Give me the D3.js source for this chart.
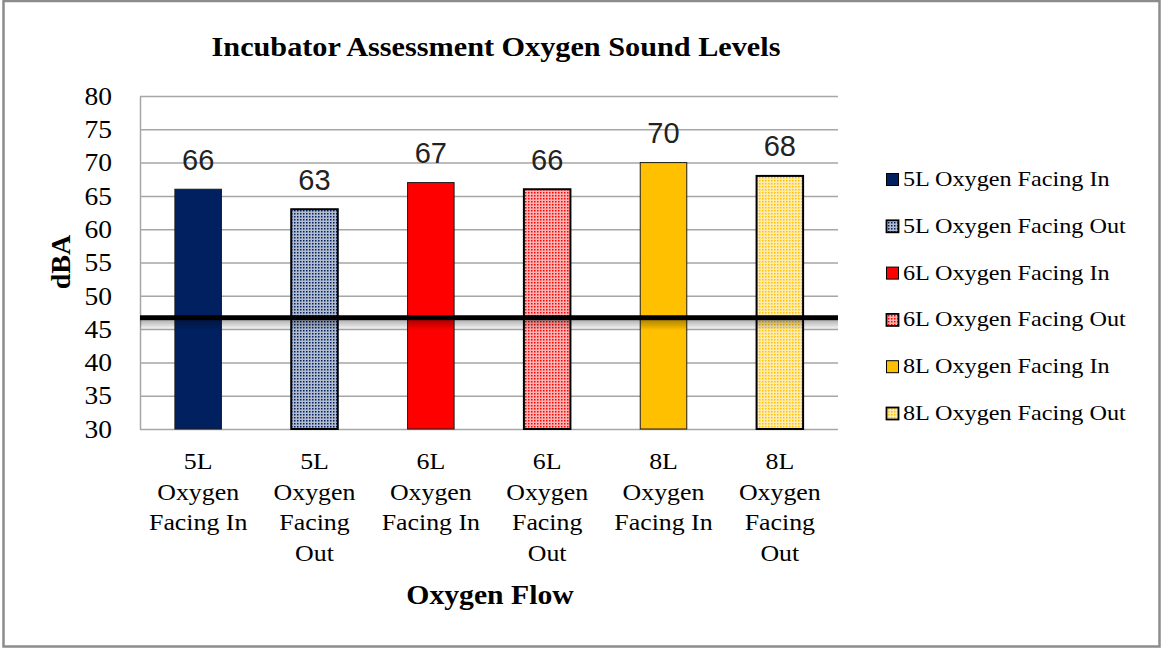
<!DOCTYPE html>
<html>
<head>
<meta charset="utf-8">
<script src="https://cdn.jsdelivr.net/npm/d3@7"></script>
<style>
    html, body { margin: 0; padding: 0; background: #fff; }
    svg { display: block; }
</style>
</head>
<body>
<svg id="chart"></svg>
<script>
// data
const categories = [
    "5L Oxygen Facing In", "5L Oxygen Facing Out",
    "6L Oxygen Facing In", "6L Oxygen Facing Out",
    "8L Oxygen Facing In", "8L Oxygen Facing Out"
];
const values = [66, 63, 67, 66, 70, 68];
const baseColors = ["#002060", "#002060", "#ff0000", "#ff0000", "#ffc000", "#ffc000"];
const patterned = [false, true, false, true, false, true];
const categoryLines = [
    ["5L", "Oxygen", "Facing In"],
    ["5L", "Oxygen", "Facing", "Out"],
    ["6L", "Oxygen", "Facing In"],
    ["6L", "Oxygen", "Facing", "Out"],
    ["8L", "Oxygen", "Facing In"],
    ["8L", "Oxygen", "Facing", "Out"]
];
const yTicks = [30, 35, 40, 45, 50, 55, 60, 65, 70, 75, 80];
const referenceLevel = 46.7;

const width = 1162;
const height = 648;
const plot = { left: 140, right: 838, top: 96, bottom: 429 };
const serif = "'Liberation Serif', 'Times New Roman', serif";
const stretch = 1.1; // the source picture is a bit wider than tall

const svg = d3.select("#chart")
    .attr("width", width)
    .attr("height", height);

const x = d3.scaleBand()
    .domain(categories)
    .range([plot.left, plot.right])
    .paddingInner(0.6)
    .paddingOuter(0.3);

const y = d3.scaleLinear()
    .domain([30, 80])
    .range([plot.bottom, plot.top]);

function fillFor(i) {
    return patterned[i] ? `url(#pat${i})` : baseColors[i];
}

function place(sel, px, py) {
    sel.attr("transform", `translate(${px},${py}) scale(${stretch},1)`);
}

// PATTERNS + SHADOW
const defs = svg.append("defs");
patterned.forEach((p, i) => {
    if (!p) return;
    let pat = defs.append("pattern")
        .attr("id", "pat" + i)
        .attr("patternUnits", "userSpaceOnUse")
        .attr("width", 3)
        .attr("height", 3);
    pat.append("rect")
        .attr("width", 3)
        .attr("height", 3)
        .attr("fill", d3.interpolateRgb(baseColors[i], "#fff")(0.7));
    pat.append("rect")
        .attr("width", 1.5)
        .attr("height", 1.5)
        .attr("fill", baseColors[i]);
});

const shadow = defs.append("linearGradient")
    .attr("id", "lineShadow")
    .attr("x1", 0).attr("y1", 0).attr("x2", 0).attr("y2", 1);
shadow.append("stop").attr("offset", "0%").attr("stop-color", "#000").attr("stop-opacity", 0.3);
shadow.append("stop").attr("offset", "100%").attr("stop-color", "#000").attr("stop-opacity", 0);

// OUTER BORDER
svg.append("rect")
    .attr("x", 3.5)
    .attr("y", 1)
    .attr("width", 1156)
    .attr("height", 645.5)
    .attr("fill", "none")
    .attr("stroke", "#8c8c8c")
    .attr("stroke-width", 2.5);

// TITLE
svg.append("text")
    .call(place, 496, 56)
    .attr("text-anchor", "middle")
    .style("font-family", serif)
    .style("font-weight", "bold")
    .style("font-size", "27.5px")
    .text("Incubator Assessment Oxygen Sound Levels");

// Y AXIS + GRID
const yAxis = svg.append("g")
    .attr("transform", `translate(${plot.left},0)`)
    .call(d3.axisLeft(y)
        .tickValues(yTicks)
        .tickSize(-(plot.right - plot.left))
        .tickSizeOuter(0));

yAxis.select(".domain").attr("stroke", "#a6a6a6").attr("stroke-width", 1.5);
yAxis.selectAll(".tick line").attr("stroke", "#a6a6a6").attr("stroke-width", 1.5);
yAxis.selectAll(".tick text")
    .attr("x", null)
    .attr("dy", "0.33em")
    .attr("text-anchor", "end")
    .attr("transform", `translate(-28,0) scale(${stretch},1)`)
    .attr("fill", "#000")
    .style("font-family", serif)
    .style("font-size", "25px");

// X AXIS (labels only)
const xAxis = svg.append("g")
    .attr("transform", `translate(0,${plot.bottom})`)
    .call(d3.axisBottom(x).tickSize(0));

xAxis.select(".domain").remove();
xAxis.selectAll(".tick text").remove();
xAxis.selectAll(".tick").each(function (d, i) {
    let t = d3.select(this).append("text")
        .call(place, 0, 40)
        .attr("text-anchor", "middle")
        .attr("fill", "#000")
        .style("font-family", serif)
        .style("font-size", "23.5px");
    categoryLines[i].forEach((line, k) => {
        t.append("tspan")
            .attr("x", 0)
            .attr("dy", k === 0 ? 0 : 30.7)
            .text(line);
    });
});

// BARS
svg.selectAll(".bar")
    .data(values)
    .enter()
    .append("rect")
    .attr("class", "bar")
    .attr("x", (d, i) => x(categories[i]))
    .attr("y", d => y(d))
    .attr("width", x.bandwidth())
    .attr("height", d => y(30) - y(d))
    .attr("fill", (d, i) => fillFor(i))
    .attr("stroke", (d, i) => patterned[i] ? "#000" : "#1a1a1a")
    .attr("stroke-width", (d, i) => patterned[i] ? 2 : 1);

// VALUE LABELS
svg.selectAll(".value-label")
    .data(values)
    .enter()
    .append("text")
    .attr("class", "value-label")
    .attr("x", (d, i) => x(categories[i]) + x.bandwidth() / 2)
    .attr("y", d => y(d) - 19.5)
    .attr("text-anchor", "middle")
    .attr("fill", "#222")
    .style("font-family", "'Liberation Sans', Arial, sans-serif")
    .style("font-size", "29px")
    .text(d => d);

// REFERENCE LINE
svg.append("rect")
    .attr("x", plot.left)
    .attr("y", y(referenceLevel) + 2.5)
    .attr("width", plot.right - plot.left)
    .attr("height", 10)
    .attr("fill", "url(#lineShadow)");

svg.append("line")
    .attr("x1", plot.left)
    .attr("x2", plot.right)
    .attr("y1", y(referenceLevel))
    .attr("y2", y(referenceLevel))
    .attr("stroke", "#000")
    .attr("stroke-width", 5);

// AXIS TITLES
svg.append("text")
    .attr("transform", "translate(70,262) rotate(-90)")
    .attr("text-anchor", "middle")
    .style("font-family", serif)
    .style("font-weight", "bold")
    .style("font-size", "28px")
    .text("dBA");

svg.append("text")
    .call(place, 490, 604)
    .attr("text-anchor", "middle")
    .style("font-family", serif)
    .style("font-weight", "bold")
    .style("font-size", "27px")
    .text("Oxygen Flow");

// LEGEND
const legend = svg.selectAll(".legend-item")
    .data(categories)
    .enter()
    .append("g")
    .attr("class", "legend-item");

legend.append("rect")
    .attr("x", 886.5)
    .attr("y", (d, i) => 173.5 + i * 46.8)
    .attr("width", 12)
    .attr("height", 12)
    .attr("fill", (d, i) => fillFor(i))
    .attr("stroke", "#000")
    .attr("stroke-width", (d, i) => patterned[i] ? 1.8 : 1);

legend.append("text")
    .attr("transform", (d, i) => `translate(903,${186 + i * 46.8}) scale(${stretch},1)`)
    .attr("fill", "#000")
    .style("font-family", serif)
    .style("font-size", "22px")
    .text(d => d);
</script>
</body>
</html>
